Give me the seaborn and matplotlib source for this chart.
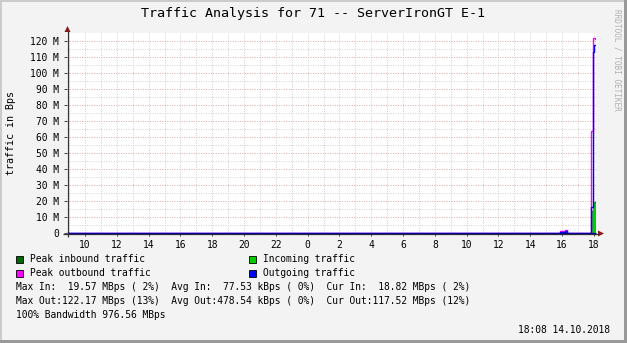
import matplotlib
matplotlib.use("Agg")
import matplotlib.pyplot as plt
from matplotlib.patches import Rectangle, Polygon
from matplotlib.ticker import MultipleLocator, FixedLocator
import seaborn as sns
import numpy as np

# ---------------- data (hours since 13.10.2018 00:00, MBps) ----------------
time_h = [8.87, 39.85, 40.20, 40.30, 41.83, 41.92, 42.00, 42.08, 42.133]
peak_in = [0.0, 0.3, 0.4, 0.0, 14.0, 19.57, 19.57, 19.57, 19.57]
incoming = [0.0, 0.2, 0.3, 0.0, 13.0, 19.2, 19.4, 18.82, 18.82]
peak_out = [0.0, 1.0, 2.0, 0.0, 64.0, 122.17, 122.17, 121.0, 121.0]
outgoing = [0.0, 0.9, 1.2, 0.0, 16.0, 113.0, 117.5, 117.52, 117.52]

x_ticks = [10, 12, 14, 16, 18, 20, 22, 24, 26, 28, 30, 32, 34, 36, 38, 40, 42]
x_tick_labels = ["10", "12", "14", "16", "18", "20", "22", "0", "2", "4",
                 "6", "8", "10", "12", "14", "16", "18"]
y_ticks = [0, 10, 20, 30, 40, 50, 60, 70, 80, 90, 100, 110, 120]
y_tick_labels = ["0"] + [f"{v} M" for v in y_ticks[1:]]

title = "Traffic Analysis for 71 -- ServerIronGT E-1"
ylabel = "traffic in Bps"
legend_items = [("Peak inbound traffic", "#006600", 15, 259),
                ("Incoming traffic", "#00CC00", 248, 259),
                ("Peak outbound traffic", "#FF00FF", 15, 273),
                ("Outgoing traffic", "#0000FF", 248, 273)]
stat_lines = ["Max In:  19.57 MBps ( 2%)  Avg In:  77.53 kBps ( 0%)  Cur In:  18.82 MBps ( 2%)",
              "Max Out:122.17 MBps (13%)  Avg Out:478.54 kBps ( 0%)  Cur Out:117.52 MBps (12%)",
              "100% Bandwidth 976.56 MBps"]
stamp = "18:08 14.10.2018"
watermark = "RRDTOOL / TOBI OETIKER"

# ---------------- figure ----------------
W, H = 627, 343
BACK = "#F3F3F3"
MONO = ["DejaVu Sans Mono"]
plt.rcParams["font.family"] = MONO

fig = plt.figure(figsize=(W / 100, H / 100), dpi=100, facecolor=BACK)

L, R, T, B = 67, 596, 33, 233
ax = fig.add_axes([L / W, 1 - B / H, (R - L) / W, (B - T) / H])
ax.set_facecolor("white")

x0, x1 = 8.868, 42.133
y0, y1 = 0, 125

# areas (step style)
ax.fill_between(time_h, peak_in, step="post", color="#006600", lw=0, zorder=2)
ax.fill_between(time_h, incoming, step="post", color="#00CC00", lw=0, zorder=3)
sns.lineplot(x=time_h, y=peak_out, ax=ax, drawstyle="steps-post", color="#FF00FF",
             lw=1.0, estimator=None, sort=False, zorder=4)
sns.lineplot(x=time_h, y=outgoing, ax=ax, drawstyle="steps-post", color="#0000FF",
             lw=1.0, estimator=None, sort=False, zorder=5)

ax.set_xlim(x0, x1)
ax.set_ylim(y0, y1)

# grid
ax.xaxis.set_major_locator(FixedLocator(x_ticks))
ax.xaxis.set_minor_locator(MultipleLocator(1))
ax.yaxis.set_major_locator(FixedLocator(y_ticks))
ax.yaxis.set_minor_locator(MultipleLocator(5))
ax.set_xticklabels(x_tick_labels)
ax.set_yticklabels(y_tick_labels)
ax.grid(False)
for xv in np.arange(9, 43, 1):
    ax.axvline(xv, color="#CFCFCF", lw=0.7, ls=(0, (1, 1.5)), zorder=1)
for yv in np.arange(5, 125, 10):
    ax.axhline(yv, color="#CFCFCF", lw=0.7, ls=(0, (1, 1.5)), zorder=1)
for yv in y_ticks[1:]:
    ax.axhline(yv, color="#E0A8A8", lw=0.7, ls=(0, (1, 1.5)), zorder=1)

for s in ax.spines.values():
    s.set_visible(False)
ax.tick_params(axis="both", which="minor", length=0)
ax.tick_params(axis="x", which="major", length=2, width=0.7, color="#444444",
               pad=3, labelsize=6.9, labelcolor="#000000")
ax.tick_params(axis="y", which="major", length=2, width=0.7, color="#444444",
               pad=4, labelsize=6.9, labelcolor="#000000")
for lab in ax.get_xticklabels() + ax.get_yticklabels():
    lab.set_fontfamily(MONO)
ax.set_xlabel("")
ax.set_ylabel("")
if ax.get_legend():
    ax.get_legend().remove()

# ---------------- overlay in pixel coordinates ----------------
ov = fig.add_axes([0, 0, 1, 1], zorder=10)
ov.set_xlim(0, W)
ov.set_ylim(H, 0)
ov.axis("off")
ov.patch.set_visible(False)

# border shading
ov.add_patch(Rectangle((0, 0), W, 2, color="#CBCBCB", lw=0))
ov.add_patch(Rectangle((0, 0), 2, H, color="#CBCBCB", lw=0))
ov.add_patch(Rectangle((W - 3, 0), 3, H, color="#999999", lw=0))
ov.add_patch(Rectangle((0, H - 3), W, 3, color="#999999", lw=0))

# axes lines + arrows
ov.plot([67.5, 67.5], [237, 31], color="#333333", lw=0.9, solid_capstyle="butt")
ov.plot([63, 599], [233.5, 233.5], color="#333333", lw=0.9, solid_capstyle="butt")
ov.plot([67.5, 596], [233.2, 233.2], color="#000090", lw=0.9, solid_capstyle="butt", zorder=3)
ov.add_patch(Polygon([[64.5, 32], [70.5, 32], [67.5, 26]], closed=True,
                     color="#8B1A1A", lw=0))
ov.add_patch(Polygon([[598, 230.5], [598, 236.5], [604, 233.5]], closed=True,
                     color="#8B1A1A", lw=0))

# title, ylabel, watermark
ov.text(313, 14, title, ha="center", va="center", fontsize=9.6,
        family=MONO, color="#000000")
ov.text(11, 133, ylabel, ha="center", va="center", rotation=90,
        fontsize=7.2, family=MONO, color="#000000")
ov.text(617, 60, watermark, ha="center", va="center", rotation=-90,
        fontsize=5.6, family=MONO, color="#B0B0B0")

# legend
for label, col, lx, ly in legend_items:
    ov.add_patch(Rectangle((lx + 0.5, ly - 3.5), 7, 7, facecolor=col,
                           edgecolor="#000000", lw=0.6))
    ov.text(lx + 15, ly, label, ha="left", va="center", fontsize=6.9,
            family=MONO, color="#000000")

for i, line in enumerate(stat_lines):
    ov.text(16, 287 + 14 * i, line, ha="left", va="center", fontsize=6.9,
            family=MONO, color="#000000")

ov.text(610, 330, stamp, ha="right", va="center", fontsize=6.9,
        family=MONO, color="#000000")

fig.savefig("out.png", dpi=100, facecolor=BACK)
